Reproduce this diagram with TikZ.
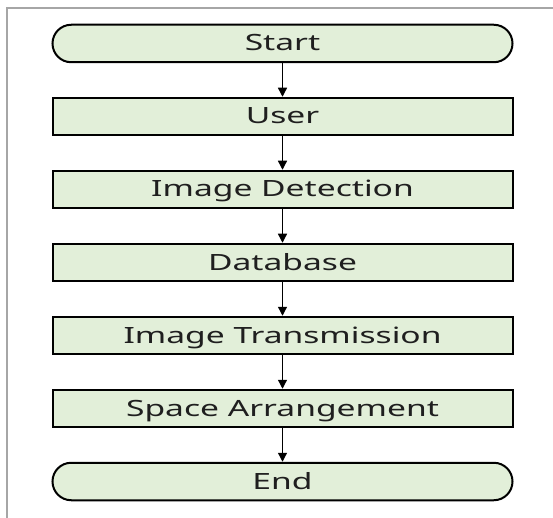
\documentclass[tikz,border=0pt]{standalone}
\usepackage{fontspec}
\setmainfont{Noto Sans}[FakeStretch=1.5]
\usepackage{tikz}
\usetikzlibrary{arrows.meta,positioning}
\definecolor{leaf}{HTML}{E2EFD9}
\definecolor{frame}{HTML}{A6A6A6}
\tikzset{
  font=\fontsize{22.4}{26}\selectfont,
  flow/.style={-{Triangle[length=9pt,width=9pt]},line width=1.3pt,draw=black},
  stepbox/.style={rectangle,draw=black,line width=2pt,fill=leaf,text=black!88,minimum width=460pt,minimum height=37.5pt,inner sep=0pt,text height=15pt,text depth=0pt},
  terminal/.style={stepbox,rounded corners=18.75pt}
}
\begin{document}
\begin{tikzpicture}[x=1pt,y=-1pt,node distance=33.5pt]
\useasboundingbox (0,0) rectangle (553,518);
\draw[frame,line width=1.5pt] (7,518) -- (7,8) -- (553,8);

\node[terminal] (start) at (282.5,43.5) {Start};
\node[stepbox,below=of start] (user) {User};
\node[stepbox,below=of user] (detect) {Image Detection};
\node[stepbox,below=of detect] (db) {Database};
\node[stepbox,below=of db] (transmit) {Image Transmission};
\node[stepbox,below=of transmit] (arrange) {Space Arrangement};
\node[terminal,below=of arrange] (end) {End};

\foreach \a/\b in {start/user,user/detect,detect/db,db/transmit,transmit/arrange,arrange/end}
  \draw[flow] (\a) -- (\b);
\end{tikzpicture}
\end{document}
